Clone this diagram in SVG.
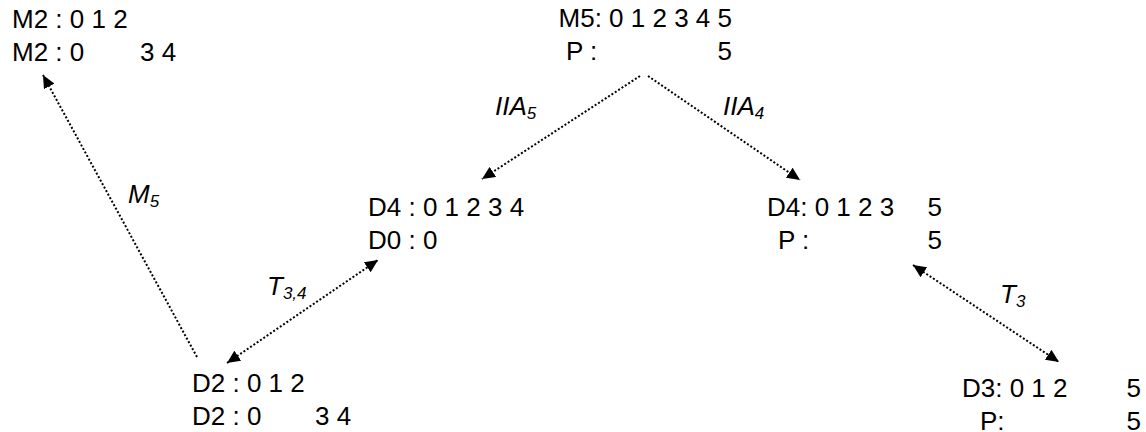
<svg xmlns="http://www.w3.org/2000/svg" width="1146" height="432" viewBox="0 0 1146 432">
<style>
text{font-family:"Liberation Sans",Arial,sans-serif;font-size:26px;fill:#000}
.lbl{font-style:italic}
.sub{font-size:17px}
.e{text-anchor:end}
.c{fill:none;stroke:#000;stroke-width:2;stroke-dasharray:2 2}
</style>
<defs>
<marker id="ah" markerUnits="userSpaceOnUse" markerWidth="14" markerHeight="12" refX="13" refY="6" orient="auto-start-reverse" viewBox="0 0 14 12">
<path d="M0,0 L13,6 L0,12 z" fill="#000"/>
</marker>
</defs>
<rect width="1146" height="432" fill="#fff"/>
<g id="connectors">
<line class="c" x1="197" y1="357" x2="43" y2="75" marker-end="url(#ah)"/>
<line class="c" x1="640" y1="76" x2="482" y2="179" marker-end="url(#ah)"/>
<line class="c" x1="648" y1="76" x2="800" y2="180" marker-end="url(#ah)"/>
<line class="c" x1="227" y1="363" x2="378" y2="260" marker-start="url(#ah)" marker-end="url(#ah)"/>
<line class="c" x1="913" y1="265" x2="1059" y2="362" marker-start="url(#ah)" marker-end="url(#ah)"/>
<text class="lbl" x="128" y="203">M<tspan class="sub" dy="4">5</tspan></text>
<text class="lbl" x="495" y="115">IIA<tspan class="sub" dy="4">5</tspan></text>
<text class="lbl" x="723" y="115">IIA<tspan class="sub" dy="4">4</tspan></text>
<text class="lbl" x="267" y="295">T<tspan class="sub" dy="4">3,4</tspan></text>
<text class="lbl" x="1000" y="303">T<tspan class="sub" dy="4">3</tspan></text>
</g>
<g id="node-m2">
<text x="12" y="28">M2 : 0 1 2</text>
<text x="12" y="61">M2 : 0</text>
<text x="140" y="61">3 4</text>
</g>
<g id="node-m5">
<text class="e" x="732" y="27">M5: 0 1 2 3 4 5</text>
<text x="566" y="60">P :</text>
<text class="e" x="732" y="60">5</text>
</g>
<g id="node-d4-left">
<text x="368" y="216">D4 : 0 1 2 3 4</text>
<text x="368" y="249">D0 : 0</text>
</g>
<g id="node-d4-right">
<text x="767" y="216">D4: 0 1 2 3</text>
<text class="e" x="942" y="216">5</text>
<text x="778" y="249">P :</text>
<text class="e" x="942" y="249">5</text>
</g>
<g id="node-d2">
<text x="192" y="392">D2 : 0 1 2</text>
<text x="192" y="425">D2 : 0</text>
<text x="315" y="425">3 4</text>
</g>
<g id="node-d3">
<text x="962" y="397">D3: 0 1 2</text>
<text class="e" x="1141" y="397">5</text>
<text x="980" y="430">P:</text>
<text class="e" x="1141" y="430">5</text>
</g>
</svg>
